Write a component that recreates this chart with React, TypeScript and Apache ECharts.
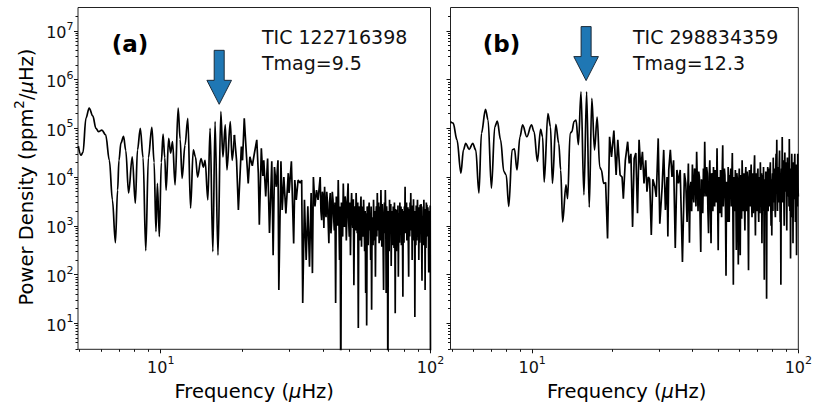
import React, { useEffect, useRef } from 'react';
import * as echarts from 'echarts';

// Panel (a): TIC 122716398 — [frequency (μHz), power density (ppm²/μHz)]
const spectrumALow: [number, number][] = [
  [4.95, 4.3e4], [5.06, 2.8e4], [5.15, 3.2e4], [5.28, 1.6e5], [5.43, 2.6e5], [5.6, 1.8e5], [5.75, 1.0e5],
  [5.88, 8.5e4], [6.05, 9.2e4], [6.25, 7.3e4], [6.45, 2.2e4], [6.62, 3.4e3], [6.79, 450], [6.92, 5.4e3],
  [7.0, 2.2e4], [7.12, 5.0e4], [7.28, 6.8e4], [7.42, 3.5e4], [7.6, 4.7e3], [7.84, 2.6e4], [8.05, 2.9e3],
  [8.2, 3.6e4], [8.4, 1.0e5], [8.6, 2.5e4], [8.8, 310], [9.0, 2.5e4], [9.27, 1.05e5], [9.45, 2.0e4],
  [9.6, 760], [9.72, 7.4e3], [9.88, 600], [10.05, 2.0e4], [10.2, 7.6e4], [10.35, 2.5e4], [10.47, 5.4e3],
  [10.7, 6.2e4], [10.88, 3.1e4], [11.06, 5.3e4], [11.3, 6.9e3], [11.6, 2.6e5], [11.8, 6.0e4], [12.0, 9.4e3],
  [12.3, 4.5e4], [12.6, 1.6e5], [12.9, 2.3e3], [13.2, 3.6e4], [13.45, 2.6e4], [13.7, 1.0e4], [14.1, 2.4e4],
  [14.4, 1.6e4], [14.6, 2.2e4], [14.95, 3.4e3], [15.24, 1.0e5], [15.6, 295], [15.9, 1.37e5], [16.3, 250],
  [16.7, 2.2e5], [17.0, 2.6e4], [17.35, 1.17e5], [17.6, 1.4e4], [18.1, 1.37e5], [18.4, 2.2e4], [18.75, 7.3e4],
  [19.1, 2.2e4], [19.4, 2.1e3], [19.9, 4.2e4], [20.1, 2.2e4], [20.4, 1.6e5], [20.8, 2.6e4], [21.1, 7.4e3],
  [21.4, 2.6e4], [21.85, 1.7e4], [22.2, 2.9e4], [22.7, 5.8e4], [23.0, 1.2e4], [23.2, 1.05e3], [23.6, 3.9e4],
  [23.9, 1.05e4], [24.1, 2.2e4], [24.5, 4.0e3], [24.9, 2.4e4], [25.3, 710], [25.8, 2.1e4], [26.1, 250],
  [26.4, 1.6e4], [26.8, 6.3e3], [27.2, 2.2e4], [27.4, 48], [27.9, 2.1e4], [28.2, 2.1e3], [28.6, 1.0e4],
  [29.1, 1.8e3], [29.7, 1.2e4], [29.9, 4.7e3], [30.5, 2.1e4], [31.1, 435], [31.4, 8.7e3], [31.8, 3.4e3],
  [32.3, 8.7e3], [32.9, 7.5e3], [33.3, 8.7e3], [33.6, 26], [34.1, 3.4e3], [34.6, 200], [35.1, 2.5e3],
  [35.6, 145], [36.1, 4.7e3], [36.5, 107], [36.8, 1.0e4], [37.3, 2.5e3], [37.8, 5.4e3], [38.3, 3.4e3],
];
const spectrumAMid: [number, number][] = [
  [39.0, 1.0e4], [39.25, 2.0e3], [39.5, 1.3e3], [39.75, 5.0e3], [40.0, 4.0e3], [40.25, 900], [40.5, 6.3e3],
  [40.75, 2.0e3], [41.0, 1.5e3], [41.25, 5.0e3], [41.5, 3.0e3], [41.75, 1.2e3], [42.0, 440], [42.25, 3.0e3],
  [42.5, 4.7e3], [42.75, 700], [43.0, 1.2e3], [43.25, 5.0e3], [43.5, 3.4e3], [43.75, 1.5e3], [44.0, 800],
  [44.25, 3.0e3], [44.5, 26], [44.75, 4.0e3], [45.0, 2.5e3], [45.25, 1.0e3], [45.5, 8.7e3], [45.75, 1.5e3],
  [46.0, 200], [46.25, 2.5e3], [46.5, 0.3], [46.75, 3.0e3], [47.0, 2.0e3], [47.25, 600], [47.5, 7.4e3],
  [47.75, 2.0e3], [48.0, 950], [48.25, 4.0e3], [48.5, 3.0e3], [48.75, 500], [49.0, 1.5e3], [49.25, 4.0e3],
  [49.5, 7.4e3], [49.75, 1.2e3], [50.0, 600], [50.25, 3.0e3], [50.5, 250], [50.75, 2.0e3], [51.0, 4.7e3],
  [51.25, 1.5e3], [51.5, 900], [51.75, 3.5e3], [52.0, 60], [52.25, 1.5e3], [52.5, 2.5e3], [52.75, 800],
  [53.0, 4.7e3], [53.25, 1.8e3], [53.5, 700], [53.75, 3.0e3], [54.0, 8], [54.25, 2.5e3], [54.5, 1.5e3],
  [54.75, 500], [55.0, 2.1e3], [55.25, 4.0e3], [55.5, 370], [55.75, 2.5e3], [56.0, 1.8e3], [56.25, 600],
  [56.5, 3.4e3], [56.75, 1.2e3], [57.0, 300], [57.25, 2.0e3], [57.5, 42], [57.75, 1.8e3], [58.0, 9],
  [58.25, 2.5e3], [58.5, 1.0e3], [58.75, 400], [59.0, 2.1e3], [59.25, 3.0e3], [59.5, 800], [59.75, 1.5e3],
];
const spectrumAHigh: [number, number][] = [
  [60.0, 200], [60.25, 2.5e3], [60.5, 19], [60.75, 1.5e3], [61.0, 1.2e3], [61.25, 400], [61.5, 3.4e3],
  [61.75, 1.0e3], [62.0, 500], [62.25, 2.0e3], [62.5, 90], [62.75, 1.5e3], [63.0, 2.5e3], [63.25, 600],
  [63.5, 4.7e3], [63.75, 1.5e3], [64.0, 800], [64.25, 3.0e3], [64.5, 440], [64.75, 2.5e3], [65.0, 2.0e3],
  [65.25, 500], [65.5, 5.4e3], [65.75, 1.2e3], [66.0, 370], [66.25, 2.8e3], [66.5, 1.2e3], [66.75, 350],
  [67.0, 48], [67.25, 1.5e3], [67.5, 3.0e3], [67.75, 700], [68.0, 5.4e3], [68.25, 1.8e3], [68.5, 42],
  [68.75, 2.5e3], [69.0, 1.5e3], [69.25, 600], [69.5, 0.3], [69.75, 2.0e3], [70.0, 900], [70.25, 300],
  [70.5, 3.4e3], [70.75, 800], [71.0, 1.2e3], [71.25, 2.8e3], [71.5, 150], [71.75, 1.5e3], [72.0, 2.0e3],
  [72.25, 400], [72.5, 600], [72.75, 2.5e3], [73.0, 1.5e3], [73.25, 350], [73.5, 3.0e3], [73.75, 1.0e3],
  [74.0, 16], [74.25, 2.2e3], [74.5, 1.0e3], [74.75, 300], [75.0, 2.1e3], [75.25, 1.2e3], [75.5, 500],
  [75.75, 2.6e3], [76.0, 90], [76.25, 1.2e3], [76.5, 1.8e3], [76.75, 450], [77.0, 3.0e3], [77.25, 800],
  [77.5, 1.3e3], [77.75, 2.5e3], [78.0, 400], [78.25, 1.5e3], [78.5, 2.2e3], [78.75, 500], [79.0, 35],
  [79.25, 2.0e3], [79.5, 1.5e3], [79.75, 450], [80.0, 2.5e3], [80.25, 900], [80.5, 6.3e3], [80.75, 700],
  [81.0, 1.2e3], [81.25, 2.5e3], [81.5, 3.0e3], [81.75, 500], [82.0, 700], [82.25, 1.8e3], [82.5, 2.4e3],
  [82.75, 400], [83.0, 90], [83.25, 2.2e3], [83.5, 1.5e3], [83.75, 600], [84.0, 3.0e3], [84.25, 1.0e3],
  [84.5, 4.7e3], [84.75, 1.5e3], [85.0, 800], [85.25, 2.6e3], [85.5, 200], [85.75, 1.2e3], [86.0, 2.0e3],
  [86.25, 500], [86.5, 3.5e3], [86.75, 1.3e3], [87.0, 600], [87.25, 2.0e3], [87.5, 13.5], [87.75, 800],
  [88.0, 1.5e3], [88.25, 400], [88.5, 2.6e3], [88.75, 1.1e3], [89.0, 500], [89.25, 1.8e3], [89.5, 3.4e3],
  [89.75, 600], [90.0, 1.0e3], [90.25, 2.4e3], [90.5, 200], [90.75, 1.0e3], [91.0, 1.8e3], [91.25, 450],
  [91.5, 2.7e3], [91.75, 1.4e3], [92.0, 700], [92.25, 2.8e3], [92.5, 2.0e3], [92.75, 350], [93.0, 75],
  [93.25, 1.6e3], [93.5, 1.2e3], [93.75, 400], [94.0, 2.5e3], [94.25, 900], [94.5, 3.4e3], [94.75, 1.2e3],
  [95.0, 400], [95.25, 2.2e3], [95.5, 48], [95.75, 900], [96.0, 1.5e3], [96.25, 350], [96.5, 3.0e3],
  [96.75, 1.0e3], [97.0, 2.7e3], [97.25, 1.4e3], [97.5, 600], [97.75, 2.4e3], [98.0, 1.8e3], [98.25, 500],
  [98.5, 110], [98.75, 1.3e3], [99.0, 2.0e3], [99.25, 700], [99.5, 800], [99.75, 2.6e3], [100.0, 1.0],
];

// Panel (b): TIC 298834359
const spectrumBLow: [number, number][] = [
  [4.93, 1.37e5], [5.05, 1.27e5], [5.22, 5.8e4], [5.4, 1.2e4], [5.52, 3.6e4], [5.63, 4.9e4], [5.8, 3.7e4],
  [5.98, 4.9e4], [6.14, 3.6e4], [6.31, 4.7e3], [6.45, 7.9e4], [6.68, 2.45e5], [6.83, 1.48e5], [7.03, 5.9e3],
  [7.24, 1.08e5], [7.4, 1.4e5], [7.61, 5.8e4], [7.83, 1.3e4], [7.99, 1.1e4], [8.17, 2.5e3], [8.41, 3.6e4],
  [8.58, 3.8e4], [8.77, 1.4e4], [9.0, 6.7e4], [9.21, 1.17e5], [9.55, 6.7e4], [9.94, 1.17e5], [10.17, 8.5e4],
  [10.46, 2.1e4], [10.76, 9.5e4], [10.95, 6.7e4], [11.1, 7.9e3], [11.46, 2.0e5], [11.72, 1.08e5],
  [11.92, 7.4e3], [12.27, 1.2e5], [12.59, 4.9e4], [12.8, 1.4e4], [13.02, 1.2e3], [13.4, 6.9e3],
  [13.59, 3.6e3], [13.89, 7.9e4], [14.1, 8.5e4], [14.37, 1.37e5], [14.62, 1.48e5], [14.92, 4.6e4],
  [15.26, 5.6e5], [15.65, 4.3e3], [16.02, 5.6e5], [16.39, 2.4e3], [16.76, 4.1e5], [17.15, 3.6e4],
  [17.55, 1.7e5], [17.94, 1.6e4], [18.2, 1.4e4], [18.56, 7.4e3], [18.88, 7.8e3], [19.2, 550], [19.54, 6.7e4],
  [19.87, 2.6e4], [20.28, 9.0e4], [20.68, 1.1e4], [20.98, 5.8e4], [21.4, 1.1e4], [21.77, 1.0e4],
  [22.01, 3.6e3], [22.39, 2.2e4], [22.85, 5.3e4], [23.16, 1.9e4], [23.5, 3.0e4], [23.84, 950],
  [24.17, 2.4e4], [24.52, 3.1e4], [24.88, 1.8e3], [25.22, 5.8e4], [25.59, 1.4e4], [25.96, 3.3e4],
  [26.32, 7.4e3], [26.71, 2.2e4], [27.0, 5.0e3], [27.33, 1.0e4], [27.63, 9.0e3], [28.03, 650], [28.41, 9.0e3],
  [28.91, 6.3e3], [29.26, 3.9e3], [29.76, 6.2e4], [30.17, 1.1e3], [30.79, 6.3e3], [31.21, 3.6e4],
  [31.67, 2.1e3], [32.13, 1.0e4], [32.35, 600], [32.6, 1.4e4], [33.05, 3.6e4], [33.53, 1.0e4],
  [33.99, 2.2e4], [34.49, 350], [34.99, 1.4e4], [35.47, 7.4e3], [35.99, 1.4e4], [36.7, 180], [37.33, 1.2e4],
  [37.78, 7.4e3], [38.2, 1.2e3], [38.63, 1.9e4],
];
const spectrumBMid: [number, number][] = [
  [39.0, 450], [39.25, 6.0e3], [39.5, 8.0e3], [39.75, 2.0e3], [40.0, 1.8e4], [40.25, 5.0e3], [40.5, 3.0e3],
  [40.75, 1.5e4], [41.0, 1.2e4], [41.25, 2.5e3], [41.5, 3.3e4], [41.75, 8.0e3], [42.0, 2.0e3], [42.25, 1.3e4],
  [42.5, 1.0e4], [42.75, 1.5e3], [43.0, 290], [43.25, 9.0e3], [43.5, 6.0e3], [43.75, 1.8e3], [44.0, 1.5e4],
  [44.25, 4.0e3], [44.5, 5.3e4], [44.75, 7.0e3], [45.0, 4.0e3], [45.25, 1.6e4], [45.5, 1.2e4], [45.75, 2.0e3],
  [46.0, 700], [46.25, 1.0e4], [46.5, 2.2e4], [46.75, 3.0e3], [47.0, 440], [47.25, 1.2e4], [47.5, 9.0e3],
  [47.75, 2.0e3], [48.0, 1.6e4], [48.25, 6.0e3], [48.5, 2.5e3], [48.75, 1.4e4], [49.0, 1.2e4], [49.25, 3.0e3],
  [49.5, 3.9e4], [49.75, 4.0e3], [50.0, 316], [50.25, 1.0e4], [50.5, 5.0e3], [50.75, 1.8e3], [51.0, 1.4e4],
  [51.25, 7.0e3], [51.5, 1.5e3], [51.75, 1.2e4], [52.0, 4.5e4], [52.25, 2.5e3], [52.5, 6.0e3], [52.75, 1.5e4],
  [53.0, 1.1e4], [53.25, 2.0e3], [53.5, 95], [53.75, 8.0e3], [54.0, 5.0e3], [54.25, 1.2e3], [54.5, 1.6e4],
  [54.75, 6.0e3], [55.0, 1.2e3], [55.25, 1.1e4], [55.5, 8.0e3], [55.75, 1.5e4], [56.0, 2.5e3], [56.25, 9.0e3],
  [56.5, 3.1e4], [56.75, 3.0e3], [57.0, 62], [57.25, 1.0e4], [57.5, 7.0e3], [57.75, 2.0e3], [58.0, 1.4e4],
  [58.25, 5.0e3], [58.5, 320], [58.75, 1.2e4], [59.0, 9.0e3], [59.25, 2.5e3], [59.5, 160], [59.75, 8.0e3],
  [60.0, 1.5e4], [60.25, 3.0e3], [60.5, 250], [60.75, 1.1e4], [61.0, 6.0e3], [61.25, 1.4e3], [61.5, 2.2e4],
  [61.75, 7.0e3], [62.0, 2.0e3], [62.25, 9.0e3], [62.5, 1.2e4], [62.75, 2.5e3], [63.0, 800], [63.25, 1.0e4],
  [63.5, 1.6e4], [63.75, 2.0e3], [64.0, 3.0e3], [64.25, 1.3e4], [64.5, 9.0e3], [64.75, 1.5e3], [65.0, 123],
  [65.25, 7.0e3], [65.5, 1.4e4], [65.75, 5.0e3], [66.0, 2.5e3], [66.25, 1.1e4], [66.5, 1.8e4], [66.75, 3.0e3],
  [67.0, 1.5e3], [67.25, 1.2e4], [67.5, 1.0e4], [67.75, 1.8e3], [68.0, 4.0e3], [68.25, 1.5e4], [68.5, 2.8e4],
  [68.75, 3.0e3], [69.0, 630], [69.25, 8.0e3], [69.5, 1.2e4], [69.75, 2.0e3],
];
const spectrumBHigh: [number, number][] = [
  [70.0, 3.0e3], [70.25, 1.1e4], [70.5, 1.5e4], [70.75, 2.5e3], [71.0, 1.2e3], [71.25, 1.0e4], [71.5, 8.0e3],
  [71.75, 1.8e3], [72.0, 2.0e4], [72.25, 6.0e3], [72.5, 2.5e3], [72.75, 1.2e4], [73.0, 440], [73.25, 7.0e3],
  [73.5, 1.1e4], [73.75, 2.0e3], [74.0, 1.6e4], [74.25, 4.0e3], [74.5, 78], [74.75, 9.0e3], [75.0, 7.0e3],
  [75.25, 1.8e3], [75.5, 1.3e4], [75.75, 3.0e3], [76.0, 32], [76.25, 6.0e3], [76.5, 9.0e3], [76.75, 1.6e4],
  [77.0, 2.0e3], [77.25, 8.0e3], [77.5, 1.5e4], [77.75, 2.5e3], [78.0, 4.0e3], [78.25, 1.3e4], [78.5, 2.0e4],
  [78.75, 3.5e3], [79.0, 1.0e3], [79.25, 9.0e3], [79.5, 630], [79.75, 7.0e3], [80.0, 1.2e4], [80.25, 2.0e3],
  [80.5, 2.5e4], [80.75, 6.0e3], [81.0, 3.0e3], [81.25, 1.2e4], [81.5, 1.5e4], [81.75, 2.2e3], [82.0, 1.5e3],
  [82.25, 1.4e4], [82.5, 3.0e4], [82.75, 5.0e3], [83.0, 5.8e4], [83.25, 8.0e3], [83.5, 2.0e3], [83.75, 1.1e4],
  [84.0, 1.6e4], [84.25, 3.0e3], [84.5, 4.0e3], [84.75, 1.8e4], [85.0, 3.5e4], [85.25, 5.0e3], [85.5, 1.2e3],
  [85.75, 9.0e3], [86.0, 62], [86.25, 8.0e3], [86.5, 1.5e4], [86.75, 4.0e3], [87.0, 6.6e4], [87.25, 1.0e4],
  [87.5, 3.0e3], [87.75, 1.4e4], [88.0, 2.2e4], [88.25, 4.0e3], [88.5, 1.0e3], [88.75, 1.2e4], [89.0, 3.2e4],
  [89.25, 6.0e3], [89.5, 5.0e3], [89.75, 2.0e4], [90.0, 1.8e4], [90.25, 3.0e3], [90.5, 800], [90.75, 1.0e4],
  [91.0, 2.5e4], [91.25, 7.0e3], [91.5, 4.0e3], [91.75, 1.6e4], [92.0, 1.4e4], [92.25, 2.5e3], [92.5, 6.0e4],
  [92.75, 9.0e3], [93.0, 2.0e3], [93.25, 1.0e4], [93.5, 213], [93.75, 6.0e3], [94.0, 1.5e4], [94.25, 4.0e3],
  [94.5, 3.0e4], [94.75, 8.0e3], [95.0, 1.5e3], [95.25, 1.2e4], [95.5, 440], [95.75, 7.0e3], [96.0, 2.0e4],
  [96.25, 3.5e3], [96.5, 5.0e3], [96.75, 1.8e4], [97.0, 3.0e4], [97.25, 6.0e3], [97.5, 1.2e3], [97.75, 1.0e4],
  [98.0, 1.8e4], [98.25, 3.0e3], [98.5, 250], [98.75, 9.0e3], [99.0, 1.0e4], [99.25, 2.5e3], [99.5, 3.0e4],
  [99.75, 6.0e3], [100.0, 4.0e3],
];

const panelLabels = ['(a)', '(b)'];
const targetNames = ['TIC 122716398', 'TIC 298834359'];
const targetMags = ['Tmag=9.5', 'Tmag=12.3'];
const arrowTipFreq = [16.47, 15.95];
const arrowTipPower = [3.1e5, 9.5e5];

const xMajorTicks = [10, 100];
const xMinorTicks = [5, 6, 7, 8, 9, 20, 30, 40, 50, 60, 70, 80, 90];
const yMajorTicks = [1e1, 1e2, 1e3, 1e4, 1e5, 1e6, 1e7];
const yMinorTicks = (() => {
  const out: number[] = [];
  for (let e = 0; e <= 7; e++) for (let k = 2; k <= 9; k++) out.push(k * Math.pow(10, e));
  return out;
})();

const X_MIN = 4.935;
const X_MAX = 100;
const Y_MIN = 2.93;
const Y_MAX = 3.0e7;
const SMOOTH_UNTIL = 19; // oversampled, smooth-looking part of each spectrum (μHz)

const FONT = 'DejaVu Sans';
const INK = '#111';
const lg = (v: number) => Math.log10(v);

export default function App() {
  const ref = useRef<HTMLDivElement>(null);
  useEffect(() => {
    if (!ref.current) return;
    const chart = echarts.init(ref.current, null, { renderer: 'svg' });

    const tickRich = {
      b: { fontFamily: FONT, fontSize: 16, lineHeight: 20, color: INK, verticalAlign: 'bottom' },
      s: { fontFamily: FONT, fontSize: 11, lineHeight: 12, color: INK, verticalAlign: 'top' },
    };
    const fmt = (v: number) => `{b|10}{s|${Math.round(v)}}`;

    const grids = [
      { left: 78, top: 7.5, width: 352.5, height: 341.8 },
      { left: 450.5, top: 7.5, width: 352.5, height: 341.8 },
    ];
    const xAxes: any[] = [];
    const yAxes: any[] = [];
    grids.forEach((_, i) => {
      xAxes.push({
        type: 'value', gridIndex: i, position: 'bottom', min: lg(X_MIN), max: lg(X_MAX),
        axisLine: { show: false }, splitLine: { show: false },
        axisTick: { show: true, customValues: xMajorTicks.map(lg), length: 4, lineStyle: { color: INK, width: 1 } },
        axisLabel: { show: true, customValues: xMajorTicks.map(lg), formatter: fmt, rich: tickRich, margin: 6 },
      });
      xAxes.push({
        type: 'value', gridIndex: i, position: 'bottom', min: lg(X_MIN), max: lg(X_MAX),
        axisLine: { show: false }, splitLine: { show: false }, axisLabel: { show: false },
        axisTick: { show: true, customValues: xMinorTicks.map(lg), length: 2.5, lineStyle: { color: INK, width: 1 } },
      });
      yAxes.push({
        type: 'value', gridIndex: i, position: 'left', min: lg(Y_MIN), max: lg(Y_MAX),
        axisLine: { show: false }, splitLine: { show: false },
        axisTick: { show: true, customValues: yMajorTicks.map(lg), length: 4, lineStyle: { color: INK, width: 1 } },
        axisLabel: { show: i === 0, customValues: yMajorTicks.map(lg), formatter: fmt, rich: tickRich, margin: 4.5 },
      });
      yAxes.push({
        type: 'value', gridIndex: i, position: 'left', min: lg(Y_MIN), max: lg(Y_MAX),
        axisLine: { show: false }, splitLine: { show: false }, axisLabel: { show: false },
        axisTick: {
          show: true,
          customValues: yMinorTicks.filter((v) => v > Y_MIN && v < Y_MAX).map(lg),
          length: 2.5, lineStyle: { color: INK, width: 1 },
        },
      });
    });

    const spectra = [
      [...spectrumALow, ...spectrumAMid, ...spectrumAHigh],
      [...spectrumBLow, ...spectrumBMid, ...spectrumBHigh],
    ];

    const series: any[] = [];
    spectra.forEach((sp, i) => {
      const pts = sp.map(([f, p]) => [lg(f), lg(p)]);
      const nSmooth = sp.filter(([f]) => f <= SMOOTH_UNTIL).length;
      const common = {
        type: 'line', xAxisIndex: 2 * i, yAxisIndex: 2 * i,
        showSymbol: false, symbol: 'none', clip: true, silent: true,
        lineStyle: { color: '#000', width: 1.7 }, z: 3,
      };
      series.push({ ...common, data: pts.slice(0, nSmooth), smooth: 0.35, smoothMonotone: 'x' });
      series.push({ ...common, data: pts.slice(nSmooth - 1) });
      series.push({
        type: 'custom', xAxisIndex: 2 * i, yAxisIndex: 2 * i, z: 5, silent: true, clip: false,
        data: [[lg(arrowTipFreq[i]), lg(arrowTipPower[i])]],
        renderItem: (params: any, api: any) => {
          const [px, py] = api.coord([api.value(0), api.value(1)]);
          const hh = 24, hw = 12.3, sw = 5, len = 54;
          return {
            type: 'polygon',
            shape: {
              points: [
                [px, py], [px - hw, py - hh], [px - sw, py - hh], [px - sw, py - len],
                [px + sw, py - len], [px + sw, py - hh], [px + hw, py - hh],
              ],
            },
            style: { fill: '#1f77b4', stroke: '#1b2a38', lineWidth: 1 },
          };
        },
      });
    });

    const nameRich = {
      n: { fontFamily: FONT, fontSize: 19.5, lineHeight: 24, color: INK, verticalAlign: 'bottom' },
      sup: { fontFamily: FONT, fontSize: 13.5, lineHeight: 14, color: INK, verticalAlign: 'top' },
      mu: { fontFamily: FONT, fontSize: 19.5, lineHeight: 24, color: INK, fontStyle: 'italic', verticalAlign: 'bottom' },
    };

    const graphic: any[] = [
      {
        type: 'text', x: 24, y: 177, rotation: Math.PI / 2,
        style: {
          text: '{n|Power Density (ppm}{sup|2}{n|/}{mu|μ}{n|Hz)}', rich: nameRich,
          align: 'center', verticalAlign: 'middle',
        },
      },
    ];
    const panelX = [78, 450.5];
    const labelX = [111.7, 482.7];
    const infoX = [262, 633];
    grids.forEach((g, i) => {
      graphic.push({
        type: 'text', x: panelX[i] + g.width / 2, y: 389,
        style: { text: '{n|Frequency (}{mu|μ}{n|Hz)}', rich: nameRich, align: 'center', verticalAlign: 'middle' },
      });
      graphic.push({
        type: 'text', x: labelX[i], y: 43.5,
        style: {
          text: panelLabels[i], fontFamily: FONT, fontSize: 23, fontWeight: 'bold', fill: '#000',
          align: 'left', verticalAlign: 'middle',
        },
      });
      graphic.push({
        type: 'text', x: infoX[i], y: 36.5,
        style: { text: targetNames[i], fontFamily: FONT, fontSize: 19, fill: INK, align: 'left', verticalAlign: 'middle' },
      });
      graphic.push({
        type: 'text', x: infoX[i], y: 63,
        style: { text: targetMags[i], fontFamily: FONT, fontSize: 19, fill: INK, align: 'left', verticalAlign: 'middle' },
      });
    });

    chart.setOption({
      animation: false,
      backgroundColor: '#fff',
      grid: grids.map((g) => ({ ...g, show: true, borderColor: '#222', borderWidth: 1, backgroundColor: 'transparent' })),
      xAxis: xAxes,
      yAxis: yAxes,
      series,
      graphic,
    });
    return () => chart.dispose();
  }, []);

  return <div ref={ref} style={{ position: 'absolute', left: 0, top: 0, width: 815, height: 403 }} />;
}
